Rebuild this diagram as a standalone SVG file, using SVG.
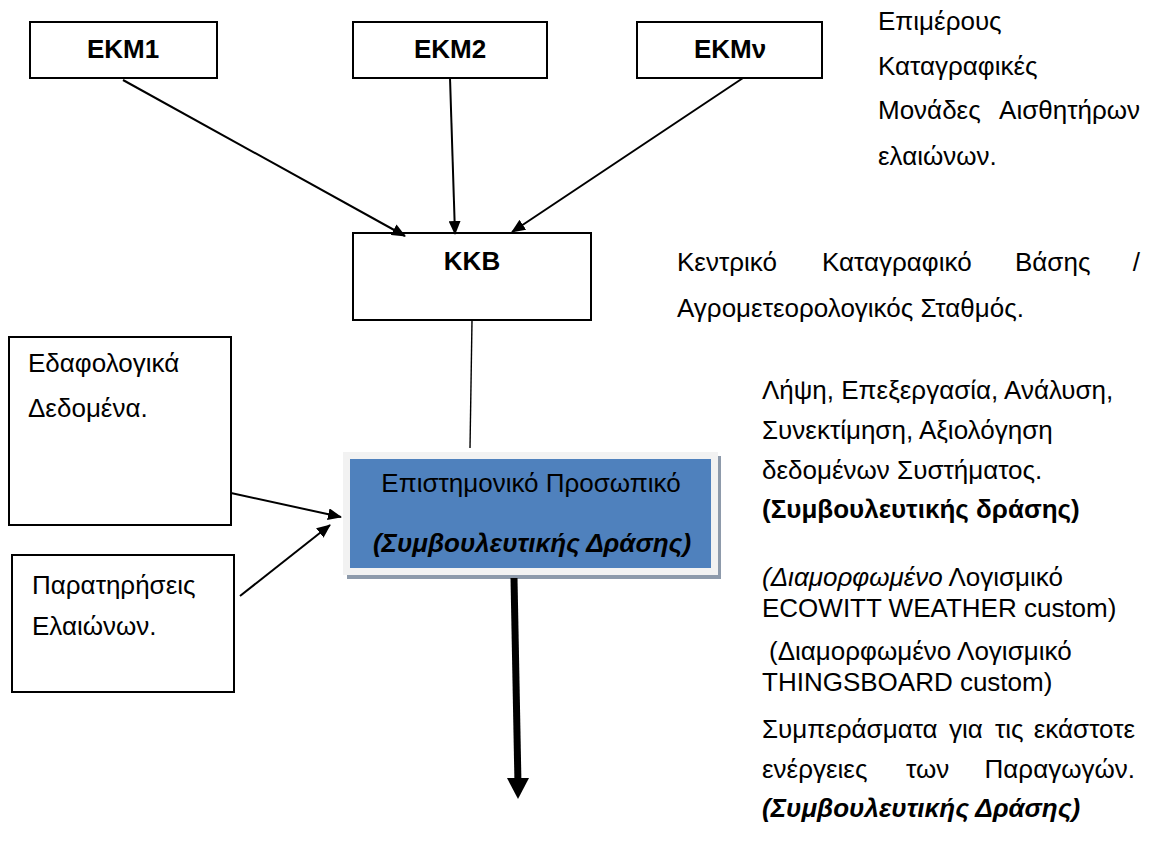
<svg xmlns="http://www.w3.org/2000/svg" width="1150" height="854" viewBox="0 0 1150 854">
<style>
text{font-family:"Liberation Sans",Arial,sans-serif;font-size:26px;fill:#000}
.b{font-weight:bold}
.bi{font-weight:bold;font-style:italic}
.i{font-style:italic}
.box{fill:#fff;stroke:#000;stroke-width:2}
.ln{stroke:#000;stroke-width:2;fill:none}
</style>
<defs>
<marker id="ah" viewBox="0 0 14 12" markerWidth="14" markerHeight="12" refX="13" refY="6" orient="auto" markerUnits="userSpaceOnUse">
<path d="M0,0 L14,6 L0,12 z" fill="#000"/>
</marker>
</defs>
<rect width="1150" height="854" fill="#fff"/>
<g id="ekm1"><rect class="box" x="30" y="22" width="187" height="56"/><text class="b" x="123" y="58" text-anchor="middle">ΕΚΜ1</text></g>
<g id="ekm2"><rect class="box" x="353" y="22" width="194" height="56"/><text class="b" x="450" y="58" text-anchor="middle">ΕΚΜ2</text></g>
<g id="ekmv"><rect class="box" x="637" y="22" width="185" height="56"/><text class="b" x="730" y="58" text-anchor="middle">ΕΚΜν</text></g>
<g id="kkb"><rect class="box" x="353" y="233" width="238" height="87"/><text class="b" x="472" y="270" text-anchor="middle">ΚΚΒ</text></g>
<g id="edafologika"><rect class="box" x="9" y="337" width="222" height="188"/><text x="28" y="372">Εδαφολογικά</text><text x="28" y="417">Δεδομένα.</text></g>
<g id="paratiriseis"><rect class="box" x="12" y="555" width="222" height="137"/><text x="32" y="594">Παρατηρήσεις</text><text x="32" y="635">Ελαιώνων.</text></g>
<g id="prosopiko">
<rect x="347" y="456" width="374" height="123" fill="#8d9aab"/>
<rect x="343" y="452" width="375" height="123" fill="#f2f2f2"/>
<rect x="350" y="459" width="361" height="109" fill="#4f81bd"/>
<text x="531" y="492" text-anchor="middle">Επιστημονικό Προσωπικό</text>
<text class="bi" x="532" y="552" text-anchor="middle">(Συμβουλευτικής Δράσης)</text>
</g>
<g id="connectors">
<line class="ln" x1="123" y1="80" x2="405" y2="236" marker-end="url(#ah)"/>
<line class="ln" x1="450" y1="78" x2="455" y2="234" marker-end="url(#ah)"/>
<line class="ln" x1="743" y1="78" x2="512" y2="232" marker-end="url(#ah)"/>
<line x1="472" y1="321" x2="470" y2="448" stroke="#000" stroke-width="1.4"/>
<line class="ln" x1="231" y1="493" x2="341" y2="517" marker-end="url(#ah)"/>
<line class="ln" x1="240" y1="596" x2="330" y2="525" marker-end="url(#ah)"/>
<line x1="514" y1="578" x2="518" y2="785" stroke="#000" stroke-width="7"/>
<path d="M507,778 L529,778 L518,799 z" fill="#000"/>
</g>
<g id="notes">
<text x="878" y="30">Επιμέρους</text>
<text x="878" y="75">Καταγραφικές</text>
<text x="878" y="119">Μονάδες</text><text x="1140" y="119" text-anchor="end">Αισθητήρων</text>
<text x="878" y="165">ελαιώνων.</text>
<text x="677" y="271">Κεντρικό</text><text x="822" y="271">Καταγραφικό</text><text x="1015" y="271">Βάσης</text><text x="1140" y="271" text-anchor="end">/</text>
<text x="677" y="317">Αγρομετεορολογικός Σταθμός.</text>
<text x="762" y="399">Λήψη, Επεξεργασία, Ανάλυση,</text>
<text x="762" y="439">Συνεκτίμηση, Αξιολόγηση</text>
<text x="762" y="479">δεδομένων Συστήματος.</text>
<text class="b" x="762" y="518">(Συμβουλευτικής δράσης)</text>
<text x="762" y="586"><tspan class="i">(Διαμορφωμένο</tspan> Λογισμικό</text>
<text x="762" y="617">ECOWITT WEATHER custom)</text>
<text x="769" y="660">(Διαμορφωμένο Λογισμικό</text>
<text x="762" y="691">THINGSBOARD custom)</text>
<text x="762" y="738">Συμπεράσματα</text><text x="949" y="738">για</text><text x="995" y="738">τις</text><text x="1135" y="738" text-anchor="end">εκάστοτε</text>
<text x="762" y="778">ενέργειες</text><text x="906" y="778">των</text><text x="1135" y="778" text-anchor="end">Παραγωγών.</text>
<text class="bi" x="762" y="817">(Συμβουλευτικής Δράσης)</text>
</g>
</svg>
